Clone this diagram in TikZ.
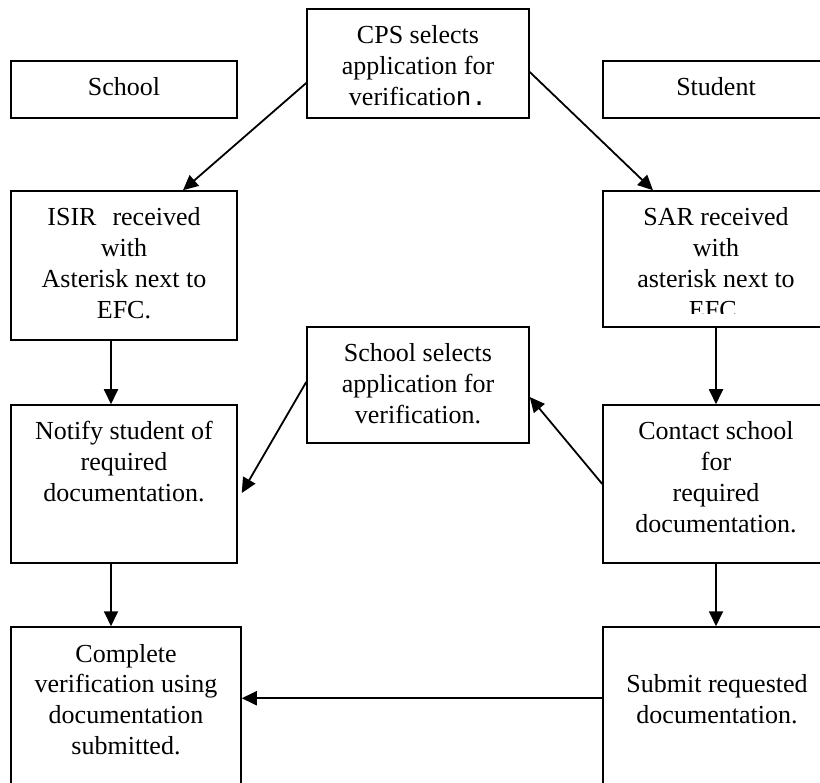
\documentclass[tikz,border=0pt]{standalone}
\usepackage{fontspec}
\setmainfont{Liberation Serif}
\newfontfamily\courierfont{Liberation Mono}
\usetikzlibrary{arrows.meta}

\tikzset{
  stage/.style={draw, line width=1.5pt, inner sep=0pt, font=\fontsize{26}{30.7}\selectfont},
}
% text box: width, height, lines (top aligned like the word processor boxes)
\newcommand{\stagetext}[3]{\parbox[c][#2pt][t]{#1pt}{\centering\rule{0pt}{35pt}#3}}

\begin{document}
\begin{tikzpicture}[x=1pt, y=-1pt, >={Triangle[length=15pt,width=14pt]}, line width=1.8pt]

\useasboundingbox (0,0) rectangle (820,783);
\clip (0,0) rectangle (820,783);

% top row
\node[stage] (school)  at (124,89.5) {\stagetext{226}{57}{School}};
\node[stage] (cps)     at (418,63.5) {\stagetext{222}{109}{CPS selects\\application for\\verificatio{\courierfont n.}}};
\node[stage] (student) at (716,89.5) {\stagetext{226}{57}{Student}};

% school side
\node[stage] (isir)     at (124,265.5) {\stagetext{226}{149}{ISIR\hspace{16pt}received\\with\\Asterisk next to\\EFC.}};
\node[stage] (notify)   at (124,484)   {\stagetext{226}{158}{Notify student of\\required\\documentation.}};
\node[stage] (complete) at (126,711)   {\stagetext{230}{168}{Complete\\verification using\\documentation\\submitted.}};

% middle
\node[stage] (select) at (418,385) {\stagetext{222}{116}{School selects\\application for\\verification.}};

% student side
\node[stage] (sar)     at (716,259) {\stagetext{226}{136}{SAR received\\with\\asterisk next to\\EFC.}};
\node[stage] (contact) at (716,484) {\stagetext{226}{158}{Contact school\\for\\required\\documentation.}};
\node[stage] (submit)  at (717,711) {\stagetext{228}{168}{\\Submit requested\\documentation.}};

% inner margin of the SAR box hides the foot of its last line
\fill[white] ([xshift=1.5pt,yshift=1.6pt]sar.south west) rectangle ([xshift=-1.5pt,yshift=14pt]sar.south east);

\draw[->] ([yshift=-19.5pt]cps.west) -- ([xshift=59pt]isir.north);
\draw[->] ([yshift=-8.5pt]cps.east) -- ([xshift=-63pt]sar.north);
\draw[->] ([xshift=-13pt]isir.south) -- ([xshift=-13pt]notify.north);
\draw[->] (sar.south) -- (contact.north);
\draw[->] ([yshift=3pt]select.west) -- ([xshift=4pt,yshift=-9pt]notify.east);
\draw[->] (contact.west) -- ([yshift=-12pt]select.east);
\draw[->] ([xshift=-13pt]notify.south) -- ([xshift=-15pt]complete.north);
\draw[->] (contact.south) -- (contact.south |- submit.north);
\draw[->] ([yshift=-72pt]submit.north west) -- ([yshift=-72pt]complete.north east);

\end{tikzpicture}
\end{document}
